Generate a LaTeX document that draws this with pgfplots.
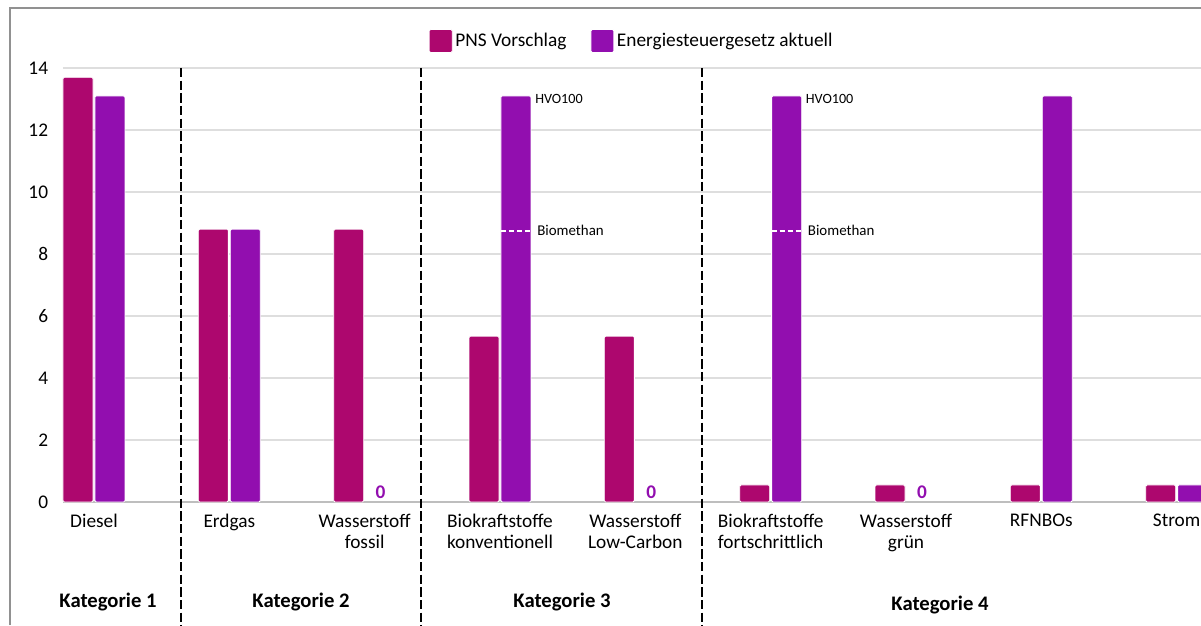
\documentclass[border=0pt]{standalone}
\usepackage{fontspec}
\setmainfont{Carlito}
\usepackage{pgfplots}
\pgfplotsset{compat=1.18}
\definecolor{pns}{RGB}{173,7,110}
\definecolor{est}{RGB}{146,14,175}
\definecolor{framec}{RGB}{145,145,145}
\definecolor{gridc}{RGB}{222,222,222}
\definecolor{basec}{RGB}{190,190,190}
\begin{document}
\begin{tikzpicture}
\useasboundingbox (0pt,0pt) rectangle (900.75pt,468.75pt);
\begin{scope}[x=0.75pt,y=0.75pt]
\draw[framec, line width=1.5pt] (10,0) -- (10,617) -- (1201,617);
\node[font=\fontsize{15.5}{16}\selectfont\bfseries] at (108,23) {Kategorie 1};
\node[font=\fontsize{15.5}{16}\selectfont\bfseries] at (301,23) {Kategorie 2};
\node[font=\fontsize{15.5}{16}\selectfont\bfseries] at (562,23) {Kategorie 3};
\node[font=\fontsize{15.5}{16}\selectfont\bfseries] at (940,20) {Kategorie 4};
\end{scope}
\begin{axis}[
  at={(47.25pt,92.25pt)}, anchor=south west,
  scale only axis, width=853.5pt, height=325.5pt,
  xmin=-0.229, xmax=8.18, ymin=0, ymax=14,
  clip=false,
  axis x line=bottom, axis y line=left,
  x axis line style={draw=basec, line width=1pt, -},
  y axis line style={draw=none},
  major tick length=0pt,
  ytick={0,2,...,14},
  ymajorgrids, grid style={draw=gridc, line width=0.8pt},
  xtick={0,...,8},
  xticklabels={Diesel,Erdgas,{Wasserstoff\\fossil},{Biokraftstoffe\\konventionell},{Wasserstoff\\Low-Carbon},{Biokraftstoffe\\fortschrittlich},{Wasserstoff\\grün},RFNBOs,Strom},
  xticklabel style={anchor=north, inner sep=0pt, yshift=-9pt, align=center, font=\fontsize{14.5}{15.8}\selectfont},
  yticklabel style={anchor=east, inner sep=0pt, xshift=-11pt, font=\fontsize{14.5}{16}\selectfont},
  /pgf/number format/assume math mode=true,
  ybar, bar width=0.222,
  legend columns=2,
  legend style={at={(0.5,1)}, anchor=center, yshift=20.25pt, draw=none, fill=none,
    font=\fontsize{14.5}{16}\selectfont,
    /tikz/every even column/.append style={column sep=16pt}},
  legend image code/.code={\fill[#1] (0pt,-8.6pt) rectangle (17.25pt,8.6pt);},
]
\addplot[fill=pns, draw=white, line width=0.6pt, bar shift=-0.118, rounded corners=1pt] coordinates {
  (0,13.7) (1,8.8) (2,8.8) (3,5.35) (4,5.35) (5,0.55) (6,0.55) (7,0.55) (8,0.55)};
\addplot[fill=est, draw=white, line width=0.6pt, bar shift=0.118, rounded corners=1pt] coordinates {
  (0,13.1) (1,8.8) (3,13.1) (5,13.1) (7,13.1) (8,0.55)};
\legend{PNS Vorschlag, Energiesteuergesetz aktuell}
% separators
\draw[black, line width=1.3pt, dash pattern=on 7pt off 2.5pt] (axis cs:0.643,14) -- (axis cs:0.643,-4.2);
\draw[black, line width=1.3pt, dash pattern=on 7pt off 2.5pt] (axis cs:2.417,14) -- (axis cs:2.417,-4.2);
\draw[black, line width=1.3pt, dash pattern=on 7pt off 2.5pt] (axis cs:4.494,14) -- (axis cs:4.494,-4.2);
% zero labels
\node[est, font=\fontsize{14.5}{16}\selectfont\bfseries, anchor=south, inner sep=0pt, yshift=2pt] at (axis cs:2.118,0) {0};
\node[est, font=\fontsize{14.5}{16}\selectfont\bfseries, anchor=south, inner sep=0pt, yshift=2pt] at (axis cs:4.118,0) {0};
\node[est, font=\fontsize{14.5}{16}\selectfont\bfseries, anchor=south, inner sep=0pt, yshift=2pt] at (axis cs:6.118,0) {0};
% annotations
\node[anchor=west, inner sep=0pt, xshift=3pt, font=\fontsize{10.6}{12}\selectfont] at (axis cs:3.229,13.0) {HVO100};
\draw[white, line width=1.5pt, dash pattern=on 4pt off 2pt] (axis cs:3.007,8.75) -- (axis cs:3.244,8.75);
\node[anchor=west, inner sep=0pt, xshift=3pt, font=\fontsize{11.2}{12}\selectfont] at (axis cs:3.244,8.75) {Biomethan};
\node[anchor=west, inner sep=0pt, xshift=3pt, font=\fontsize{10.6}{12}\selectfont] at (axis cs:5.229,13.0) {HVO100};
\draw[white, line width=1.5pt, dash pattern=on 4pt off 2pt] (axis cs:5.007,8.75) -- (axis cs:5.244,8.75);
\node[anchor=west, inner sep=0pt, xshift=3pt, font=\fontsize{11.2}{12}\selectfont] at (axis cs:5.244,8.75) {Biomethan};
\end{axis}
\end{tikzpicture}
\end{document}
